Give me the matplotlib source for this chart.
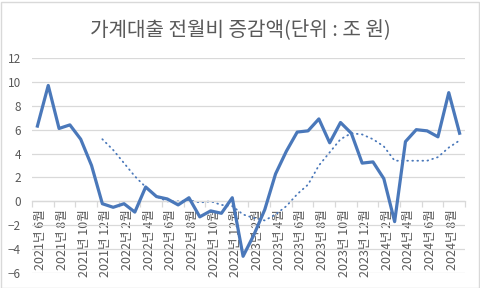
import matplotlib
matplotlib.use('Agg')
import matplotlib.pyplot as plt
from matplotlib.patches import Rectangle
from matplotlib.transforms import ScaledTranslation

plt.rcParams['font.family'] = ['Noto Sans CJK KR', 'DejaVu Sans']

# monthly change, 2021-06 .. 2024-09 (조 원)
loan_change = [6.3, 9.7, 6.1, 6.4, 5.2, 3.0, -0.2, -0.5, -0.2, -0.9,
               1.2, 0.4, 0.2, -0.3, 0.3, -1.3, -0.8, -1.0, 0.3, -4.6,
               -2.8, -0.7, 2.3, 4.2, 5.8, 5.9, 6.9, 4.9, 6.6, 5.7,
               3.2, 3.3, 1.9, -1.7, 5.0, 6.0, 5.9, 5.4, 9.1, 5.7]

# dotted trend (moving average), starts 2021-12
trend_start = 6
trend = [5.2, 4.3, 3.2, 2.1, 1.2, 0.4, 0.0, 0.0, 0.1, -0.1,
         0.0, -0.3, -0.4, -1.1, -1.4, -1.6, -1.1, -0.4, 0.6, 1.4,
         3.0, 4.1, 5.2, 5.7, 5.6, 5.2, 4.6, 3.4, 3.4, 3.4,
         3.4, 3.7, 4.5, 5.1]

tick_labels = ['2021년 6월', '2021년 8월', '2021년 10월', '2021년 12월',
               '2022년 2월', '2022년 4월', '2022년 6월', '2022년 8월',
               '2022년 10월', '2022년 12월', '2023년 2월', '2023년 4월',
               '2023년 6월', '2023년 8월', '2023년 10월', '2023년 12월',
               '2024년 2월', '2024년 4월', '2024년 6월', '2024년 8월']

blue = '#4A78BA'
grey_txt = '#595959'
grid_c = '#D9D9D9'

fig = plt.figure(figsize=(4.81, 2.88), dpi=100)
ax = fig.add_axes([32 / 481, 1 - 273 / 288, 433 / 481, 215 / 288])

x = list(range(len(loan_change)))
ax.plot(x, loan_change, color=blue, lw=2.3, zorder=3)
x_tr = list(range(trend_start, trend_start + len(trend)))
ax.plot(x_tr, trend, color=blue, lw=1.3, linestyle=(0, (0.4, 2.4)),
        dash_capstyle='round', zorder=2)

ax.set_xlim(-0.5, len(loan_change) - 0.5)
ax.set_ylim(-6, 12)
ax.set_yticks(range(-6, 13, 2))
ax.grid(axis='y', color=grid_c, lw=0.9)
ax.set_axisbelow(True)

for s in ['top', 'right', 'left']:
    ax.spines[s].set_visible(False)
ax.spines['bottom'].set_position(('data', 0))
ax.spines['bottom'].set_color(grid_c)
ax.spines['bottom'].set_linewidth(0.9)

ax.set_xticks([i - 0.5 for i in range(0, len(loan_change) + 1, 2)])
ax.set_xticklabels([])
ax.set_xticks(list(range(0, len(loan_change), 2)), tick_labels, minor=True)
ax.tick_params(axis='x', which='major', length=4, color=grid_c, width=0.9)
ax.tick_params(axis='x', which='minor', length=0, pad=6, labelsize=9,
               labelcolor=grey_txt, labelrotation=90)
ax.tick_params(axis='y', length=0, pad=8, labelsize=8.5, labelcolor=grey_txt)

# Excel draws the rotated labels a little right of the category centre
shift = ScaledTranslation(3.5 / 100, 0, fig.dpi_scale_trans)
for lab in ax.get_xticklabels(minor=True):
    lab.set_transform(lab.get_transform() + shift)

fig.text(0.5, 1 - 30 / 288, '가계대출 전월비 증감액(단위 : 조 원)', ha='center',
         va='center', fontsize=14.5, color=grey_txt)

fig.add_artist(Rectangle((0.5 / 481, 0.5 / 288), 479 / 481, 286 / 288,
                         transform=fig.transFigure, fill=False,
                         edgecolor=grid_c, lw=1))

fig.savefig('out.png', dpi=100)
